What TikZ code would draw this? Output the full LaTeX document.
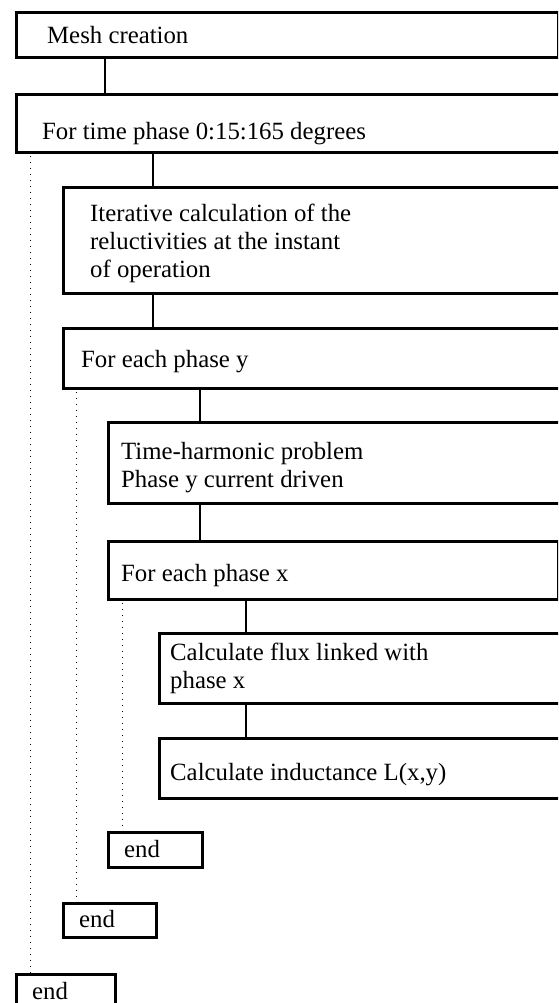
\documentclass[tikz,border=0pt]{standalone}
\usepackage{fontspec}
\setmainfont{Liberation Serif}
\begin{document}
\begin{tikzpicture}[x=1pt,y=-1pt,
  box/.style={draw=black,line width=2.8pt,rectangle,inner sep=0pt,anchor=north west},
  txt/.style={anchor=base west,inner sep=0pt,align=left,font=\fontsize{24.8pt}{27.6pt}\selectfont},
  conn/.style={draw=black,line width=2.6pt},
  loopline/.style={draw=black,line width=1pt,dash pattern=on 1.5pt off 4.5pt}]
\useasboundingbox (0,0) rectangle (558,1003);
\clip (0,0) rectangle (558,1003);
% boxes
\node[box,minimum width=542pt,minimum height=45pt] (mesh) at (15,11) {};
\node[box,minimum width=560pt,minimum height=58pt] (time) at (15,93) {};
\node[box,minimum width=520pt,minimum height=106pt] (iter) at (62,186) {};
\node[box,minimum width=520pt,minimum height=60pt] (phy) at (62,327) {};
\node[box,minimum width=480pt,minimum height=81pt] (harm) at (107,421) {};
\node[box,minimum width=450pt,minimum height=58pt] (phx) at (107,540) {};
\node[box,minimum width=420pt,minimum height=70pt] (flux) at (158,632) {};
\node[box,minimum width=420pt,minimum height=60pt] (ind) at (158,737) {};
\node[box,minimum width=94pt,minimum height=35pt] (endc) at (107,831) {};
\node[box,minimum width=93pt,minimum height=34pt] (endb) at (62,902) {};
\node[box,minimum width=99pt,minimum height=45pt] (enda) at (15,973) {};
% texts (multi-line nodes: base is the last line)
\node[txt] (tmesh) at (47,44) {Mesh creation};
\node[txt] (ttime) at (42,140) {For time phase 0:15:165 degrees};
\node[txt] (titer) at (90,277) {Iterative calculation of the\\reluctivities at the instant\\of operation};
\node[txt] (tphy) at (81,367) {For each phase y};
\node[txt] (tharm) at (121,487) {Time-harmonic problem\\Phase y current driven};
\node[txt] (tphx) at (121,581) {For each phase x};
\node[txt] (tflux) at (170,688) {Calculate flux linked with\\phase x};
\node[txt] (tind) at (170,780) {Calculate inductance L(x,y)};
\node[txt] (tendc) at (124,857) {end};
\node[txt] (tendb) at (79,927) {end};
\node[txt] (tenda) at (32,999) {end};
% connectors
\draw[conn] ([xshift=90pt]mesh.south west) -- ([xshift=90pt]mesh.south west |- time.north);
\draw[conn] ([xshift=138pt]time.south west) -- ([xshift=138pt]time.south west |- iter.north);
\draw[conn] ([xshift=91pt]iter.south west) -- ([xshift=91pt]iter.south west |- phy.north);
\draw[conn] ([xshift=138pt]phy.south west) -- ([xshift=138pt]phy.south west |- harm.north);
\draw[conn] ([xshift=93pt]harm.south west) -- ([xshift=93pt]harm.south west |- phx.north);
\draw[conn] ([xshift=139pt]phx.south west) -- ([xshift=139pt]phx.south west |- flux.north);
\draw[conn] ([xshift=88pt]flux.south west) -- ([xshift=88pt]flux.south west |- ind.north);
% loop lines
\draw[loopline] ([xshift=15pt,yshift=-2pt]time.south west) -- ([xshift=15pt]time.south west |- enda.north);
\draw[loopline] ([xshift=14pt,yshift=-2pt]phy.south west) -- ([xshift=14pt]phy.south west |- endb.north);
\draw[loopline] ([xshift=15pt,yshift=-2pt]phx.south west) -- ([xshift=15pt]phx.south west |- endc.north);
\end{tikzpicture}
\end{document}
